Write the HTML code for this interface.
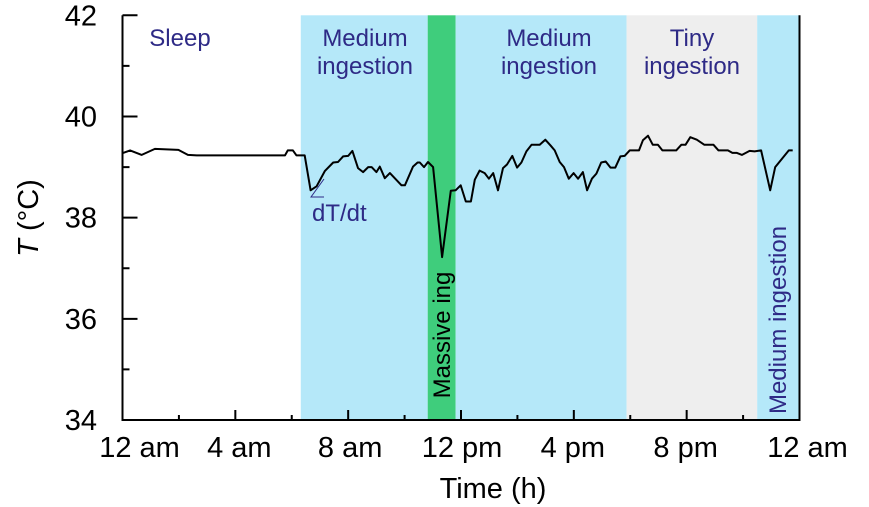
<!DOCTYPE html>
<html><head><meta charset="utf-8"><style>
html,body{margin:0;padding:0;background:#fff}
svg{display:block;font-family:"Liberation Sans",sans-serif}
</style></head><body>
<svg id="chart" width="869" height="507"></svg>
<script>
const hours=[0.02,0.27,0.68,1.15,1.98,2.32,2.63,5.76,5.86,6.04,6.17,6.46,6.67,6.88,7.17,7.47,7.64,7.82,8.0,8.15,8.35,8.53,8.71,8.83,9.0,9.12,9.3,9.48,9.89,10.01,10.3,10.46,10.54,10.69,10.83,11.01,11.33,11.64,11.81,11.99,12.17,12.35,12.49,12.66,12.84,12.99,13.14,13.31,13.49,13.63,13.82,13.99,14.14,14.32,14.5,14.79,14.99,15.17,15.32,15.5,15.65,15.82,15.99,16.15,16.32,16.47,16.64,16.8,16.97,17.13,17.3,17.47,17.65,17.8,17.98,18.31,18.45,18.63,18.8,18.98,19.14,19.63,19.81,19.96,20.13,20.36,20.63,20.95,21.13,21.46,21.62,21.78,21.96,22.23,22.41,22.64,22.96,23.14,23.62,23.76];
const temps=[39.28,39.33,39.24,39.36,39.34,39.24,39.23,39.23,39.33,39.33,39.23,39.23,38.54,38.62,38.92,39.09,39.1,39.21,39.22,39.32,38.98,38.9,39.0,39.0,38.9,39.01,38.78,38.88,38.64,38.64,39.01,39.09,39.09,39.0,39.1,39.0,37.22,38.53,38.54,38.64,38.32,38.32,38.75,38.93,38.88,38.77,38.88,38.54,38.98,39.05,39.22,38.99,39.09,39.31,39.44,39.44,39.54,39.43,39.33,39.1,39.0,38.77,38.88,38.77,38.9,38.54,38.77,38.87,39.09,39.11,38.99,38.99,39.21,39.22,39.33,39.33,39.53,39.62,39.44,39.44,39.33,39.33,39.44,39.44,39.59,39.54,39.44,39.44,39.33,39.33,39.28,39.28,39.24,39.32,39.31,39.33,38.54,39.0,39.33,39.33];
const bandStarts=[6.32,10.82,11.81,17.87,22.5];
const bandEnds=[10.82,11.81,17.87,22.5,24];
const bandColors=["#b5e8f9","#3fcd7c","#b5e8f9","#eeeeee","#b5e8f9"];
const bandNames=["band-medium-1","band-massive","band-medium-2","band-tiny","band-medium-3"];
const xTicks=[0,4,8,12,16,20,24];
const xTickLabels=["12 am","4 am","8 am","12 pm","4 pm","8 pm","12 am"];
const yTicks=[34,36,38,40,42];

const NS="http://www.w3.org/2000/svg";
const svg=document.getElementById('chart');
const X0=122.5,X1=799.5,Y0=420,Y1=15.3;
const xs=h=>X0+h/24*(X1-X0);
const ys=t=>Y0-(t-34)/8*(Y0-Y1);
function mk(tag,attrs,parent){const e=document.createElementNS(NS,tag);for(const k in attrs)e.setAttribute(k,attrs[k]);(parent||svg).appendChild(e);return e;}

bandStarts.forEach((s,i)=>{
  const r=mk('rect',{x:xs(s),y:Y1,width:xs(bandEnds[i])-xs(s),height:Y0-Y1,fill:bandColors[i]});
  
  
});

function txt(x,y,s,attrs,name){const t=mk('text',Object.assign({x:x,y:y},attrs));t.textContent=s;return t;}
const lab={fill:"#2e2a86","font-size":"24","text-anchor":"middle"};
txt(180,46,"Sleep",lab,"label-sleep");
txt(365,46,"Medium",lab,"label-medium-1a");
txt(365,74,"ingestion",lab,"label-medium-1b");
txt(549,46,"Medium",lab,"label-medium-2a");
txt(549,74,"ingestion",lab,"label-medium-2b");
txt(692,46,"Tiny",lab,"label-tiny-a");
txt(692,74,"ingestion",lab,"label-tiny-b");
txt(0,0,"Massive ing",{fill:"#000","font-size":"24","text-anchor":"middle",transform:"translate(450,335) rotate(-90)"},"label-massive");
txt(0,0,"Medium ingestion",{fill:"#2e2a86","font-size":"24","text-anchor":"middle",transform:"translate(786,320) rotate(-90)"},"label-medium-3");
txt(312,221,"dT/dt",{fill:"#2e2a86","font-size":"24","text-anchor":"start"},"label-dtdt");
const ang=mk('path',{d:"M324,179 L311,197 L324,197",fill:"none",stroke:"#2e2a86","stroke-width":"1"});



let d="";hours.forEach((h,i)=>{d+=(i?"L":"M")+xs(h).toFixed(1)+","+ys(temps[i]).toFixed(1);});
const line=mk('path',{d:d,fill:"none",stroke:"#000","stroke-width":"2","stroke-linejoin":"round"});



const axes=mk('path',{d:`M${X0},${Y1} L${X0},${Y0} L${X1},${Y0} L${X1},${Y1}`,fill:"none",stroke:"#000","stroke-width":"2"});



let td="";
for(let h=0;h<=24;h+=2){const big=h%4===0;td+=`M${xs(h)},${Y0} L${xs(h)},${Y0-(big?10:5)}`;}
for(let t=34;t<=42;t+=1){const big=t%2===0;td+=`M${X0},${ys(t)} L${X0+(big?15:7)},${ys(t)}`;}
const ticks=mk('path',{d:td,stroke:"#000","stroke-width":"2",fill:"none"});



const xOff=[17,4,2,1,-1,-1,8];
xTicks.forEach((h,i)=>{txt(xs(h)+xOff[i],457,xTickLabels[i],{"font-size":"29","text-anchor":"middle",fill:"#000"},"x-tick-label");});
yTicks.forEach(t=>{txt(97,ys(t)+10,String(t),{"font-size":"29","text-anchor":"end",fill:"#000"},"y-tick-label");});
txt(493,498,"Time (h)",{"font-size":"29","text-anchor":"middle",fill:"#000"},"x-axis-title");
const yt=mk('text',{transform:"translate(38,218) rotate(-90)","font-size":"29","text-anchor":"middle",fill:"#000"});


yt.innerHTML='<tspan font-style="italic">T</tspan> (°C)';
</script>
</body></html>
